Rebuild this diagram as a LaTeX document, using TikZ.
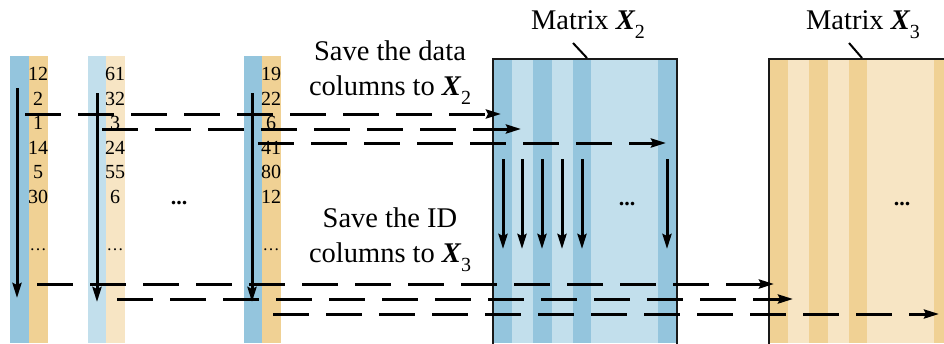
\documentclass[tikz,border=0pt]{standalone}
\usepackage{fontspec}
\setmainfont{Liberation Serif}
\usetikzlibrary{arrows.meta}
\definecolor{bdark}{HTML}{94C5DD}
\definecolor{blight}{HTML}{C2DFEC}
\definecolor{odark}{HTML}{F0D194}
\definecolor{olight}{HTML}{F7E5C4}
\newcommand{\subx}[1]{\raisebox{-0.32em}{\fontsize{20}{20}\selectfont #1}}
\newcommand{\bX}{{\bfseries\itshape X}}
\tikzset{
  arr/.style={line width=3pt,-{Stealth[length=15pt,width=9pt,inset=2pt]}},
  dasharr/.style={arr,dash pattern=on 36pt off 17pt},
  num/.style={font=\fontsize{20}{20}\selectfont,inner sep=0pt},
  bigtxt/.style={font=\fontsize{28.5}{35}\selectfont,align=center,inner sep=0pt},
  bdots/.style={font=\fontsize{22}{22}\selectfont\bfseries,inner sep=0pt},
  frame/.style={line width=2.2pt,draw=black!90},
  leader/.style={line width=2pt}
}
\begin{document}
\begin{tikzpicture}[x=1pt,y=-1pt]
\useasboundingbox (0,0) rectangle (944,343);
% input columns
\fill[bdark] (10,56) rectangle (29,343);
\fill[odark] (29,56) rectangle (48,343);
\fill[blight] (88,56) rectangle (106,343);
\fill[olight] (106,56) rectangle (125,343);
\fill[bdark] (244,56) rectangle (262,343);
\fill[odark] (262,56) rectangle (281,343);
% numbers
\foreach \xx/\vals in {38/{12,2,1,14,5,30},115/{61,32,3,24,55,6},271/{19,22,6,41,80,12}}{
  \foreach \v [count=\i] in \vals {
    \node[num] at (\xx,{74+24.6*(\i-1)}) {\v};
  }
  \node[num,font=\fontsize{17}{17}\selectfont] at (\xx,250) {\textellipsis};
}
\node[bdots] (mdots) at (179,203) {...};
% matrix X2
\foreach \a/\b/\c in {493/512/bdark,512/533/blight,533/552/bdark,552/573/blight,573/591/bdark,591/658/blight,658/677/bdark}{
  \fill[\c] (\a,59) rectangle (\b,343);
}
\draw[frame] (493,345) -- (493,59) -- (677,59) -- (677,345);
% matrix X3
\foreach \a/\b/\c in {769/788/odark,788/809/olight,809/828/odark,828/849/olight,849/867/odark,867/934/olight,934/946/odark}{
  \fill[\c] (\a,59) rectangle (\b,343);
}
\draw[frame] (769,345) -- (769,59) -- (946,59);
% labels
\node[bigtxt] (lx2) at (588,25) {Matrix \bX\subx{2}};
\node[bigtxt] (lx3) at (863,25) {Matrix \bX\subx{3}};
\coordinate (l2a) at (573,43); \coordinate (l2b) at (587,58);
\coordinate (l3a) at (849,43); \coordinate (l3b) at (862,58);
\draw[leader] (l2a) -- (l2b);
\draw[leader] (l3a) -- (l3b);
\node[bigtxt] (t1) at (390,73) {Save the data\\columns to \bX\subx{2}};
\node[bigtxt] (t2) at (390,240) {Save the ID\\columns to \bX\subx{3}};
\node[bdots] (d2) at (627,204) {...};
\node[bdots] (d3) at (902,204) {...};
% vertical arrows in input columns
\coordinate (c1s) at (17,88); \coordinate (c1e) at (17,298);
\coordinate (c2s) at (97,93); \coordinate (c2e) at (97,302);
\coordinate (c3s) at (252,93); \coordinate (c3e) at (252,302);
\draw[arr] (c1s) -- (c1e);
\draw[arr] (c2s) -- (c2e);
\draw[arr] (c3s) -- (c3e);
% vertical arrows in X2
\foreach \xx [count=\i] in {503,522,542,562,582,667}{
  \coordinate (vs\i) at (\xx,159);
  \coordinate (ve\i) at (\xx,249);
  \draw[arr] (vs\i) -- (ve\i);
}
% dashed transfer arrows
\coordinate (as) at (25,114);  \coordinate (ae) at (501,114);
\coordinate (bs) at (102,129); \coordinate (be) at (521,129);
\coordinate (cs) at (258,143); \coordinate (ce) at (666,143);
\coordinate (ds) at (37,284);  \coordinate (de) at (774,284);
\coordinate (es) at (117,299); \coordinate (ee) at (793,299);
\coordinate (fs) at (273,314); \coordinate (fe) at (939,314);
\draw[dasharr] (as) -- (ae);
\draw[dasharr] (bs) -- (be);
\draw[dasharr] (cs) -- (ce);
\draw[dasharr] (ds) -- (de);
\draw[dasharr] (es) -- (ee);
\draw[dasharr] (fs) -- (fe);
\end{tikzpicture}
\end{document}
